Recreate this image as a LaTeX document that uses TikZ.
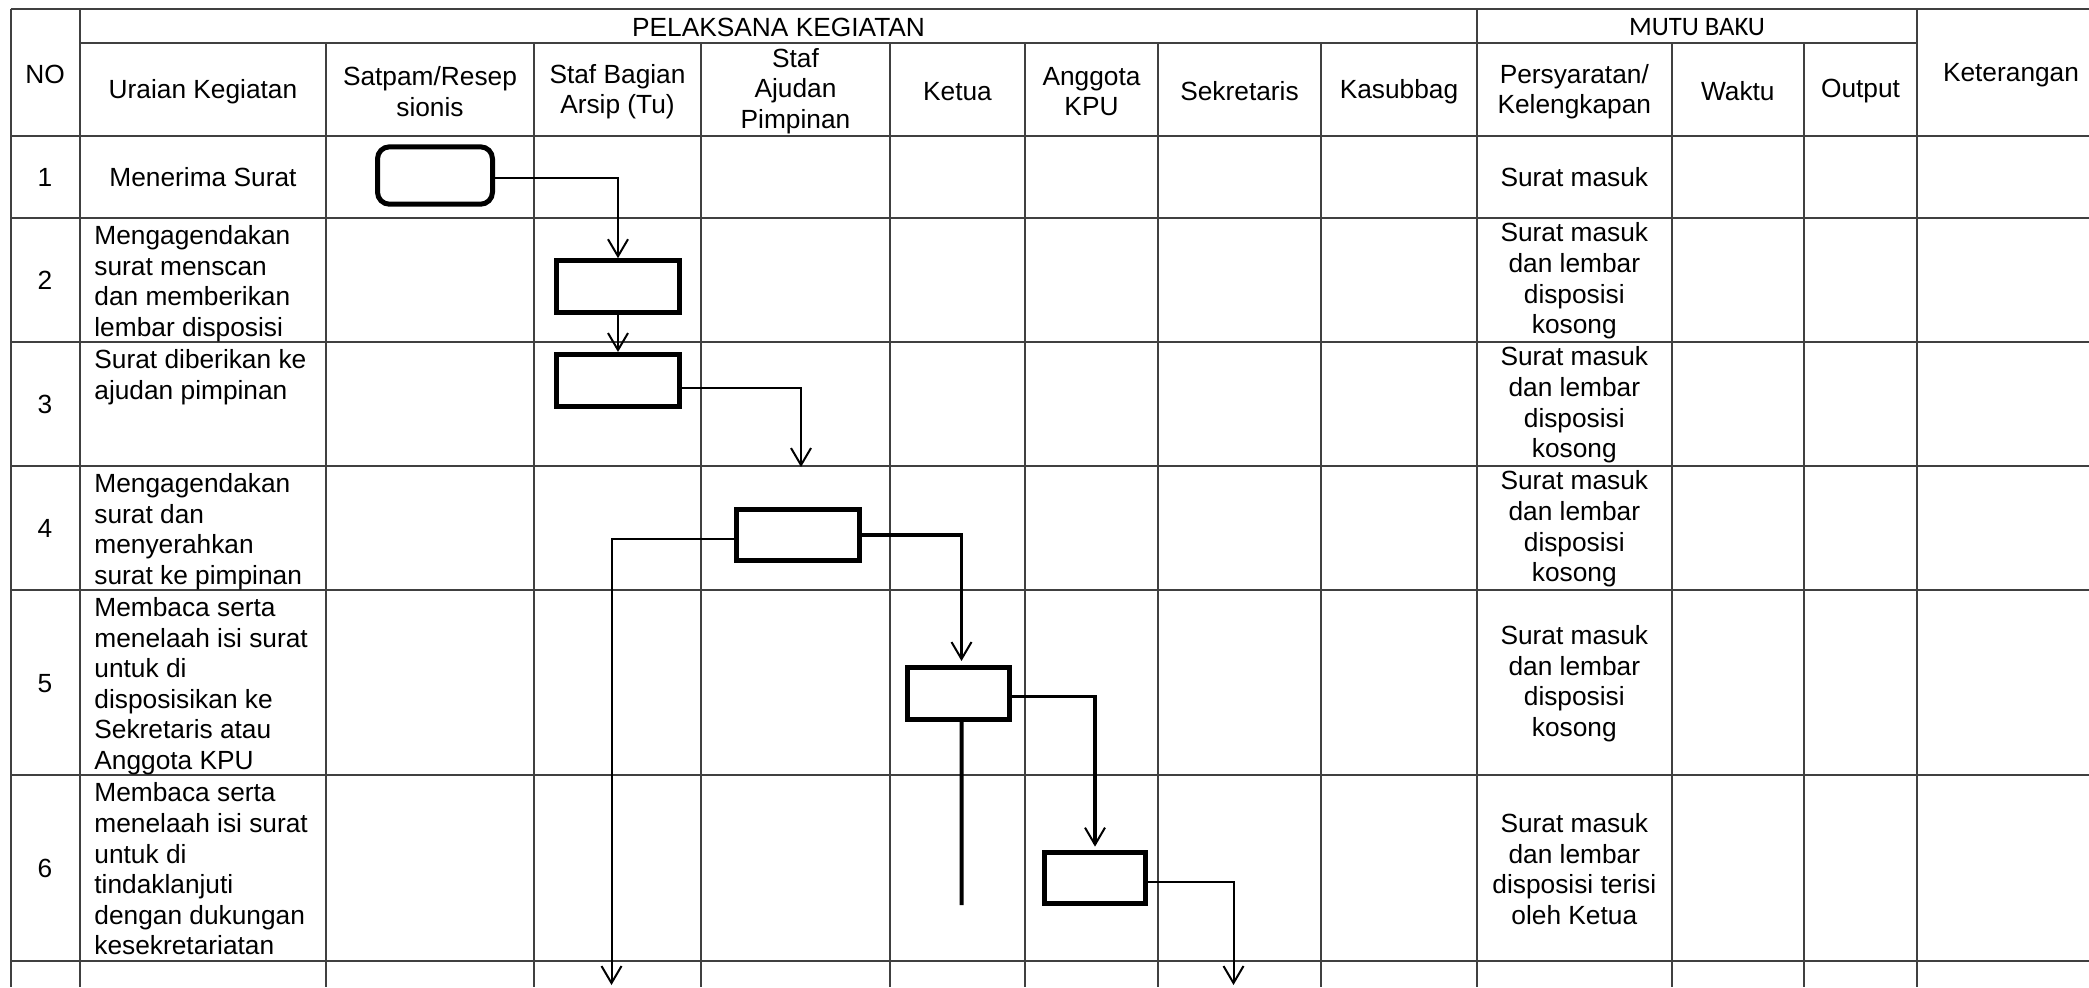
\documentclass[tikz,border=0pt]{standalone}
\usepackage{fontspec}
\setmainfont{Liberation Sans}
\newfontfamily\calibrifont{Carlito}
\usetikzlibrary{arrows.meta}
\begin{document}
\begin{tikzpicture}[x=0.5pt,y=-0.5pt,
  grid/.style={line width=1pt, draw=black!75},
  txt/.style={inner sep=0pt, font=\fontsize{13.15}{15.3}\selectfont, align=center},
  ltxt/.style={inner sep=0pt, font=\fontsize{13.15}{15.3}\selectfont, align=left, anchor=north west},
  box/.style={draw=black, line width=2.5pt, minimum width=61.5pt, minimum height=26pt, inner sep=0pt},
  conn/.style={draw=black, line width=1pt},
  thickconn/.style={draw=black, line width=1.6pt},
  arr/.style={-{Straight Barb[length=8.5pt,width=10pt,line width=1pt]}},
]
\fill[white] (0,0) rectangle (2089,987);
\useasboundingbox (0,0) rectangle (2089,987);

% ---------- grid ----------
\foreach \x in {10.5,80,1477,1917}
  \draw[grid] (\x,9.3) -- (\x,987);
\foreach \x in {326,534,701,890,1025,1158,1321,1671.5,1804}
  \draw[grid] (\x,42.5) -- (\x,987);
\draw[grid] (10.5,9.3) -- (2089,9.3);
\draw[grid] (80,42.5) -- (1917,42.5);
\foreach \y in {136,217.5,341.5,465.5,589.5,775,960.5}
  \draw[grid] (10.5,\y) -- (2089,\y);

% ---------- header texts ----------
\node[txt] (hno) at (45,74.5) {NO};
\node[txt] (hpk) at (778.5,27) {PELAKSANA KEGIATAN};
\node[txt, font=\calibrifont\fontsize{13.3}{15}\selectfont] (hmb) at (1697,27) {MUTU BAKU};
\node[txt] (hket) at (2011,75.5) {Keterangan};
\node[txt] (hura) at (203,91.5) {Uraian Kegiatan};
\node[txt] (hsat) at (430,91.5) {Satpam/Resep\\sionis};
\node[txt] (harq) at (617.5,91.5) {Staf Bagian\\Arsip (Tu)};
\node[txt] (hajd) at (795.5,91) {Staf\\Ajudan\\Pimpinan};
\node[txt] (hket2) at (957.5,91.5) {Ketua};
\node[txt] (hang) at (1091.5,91.5) {Anggota\\KPU};
\node[txt] (hsek) at (1239.5,91.5) {Sekretaris};
\node[txt] (hkas) at (1399,91.5) {Kasubbag};
\node[txt] (hper) at (1574.3,91.5) {Persyaratan/\\Kelengkapan};
\node[txt] (hwak) at (1737.8,91.5) {Waktu};
\node[txt] (hout) at (1860.5,91.5) {Output};

% ---------- row numbers ----------
\node[txt] (n1) at (45,177.5) {1};
\node[txt] (n2) at (45,280.5) {2};
\node[txt] (n3) at (45,404.5) {3};
\node[txt] (n4) at (45,528.5) {4};
\node[txt] (n5) at (45,683.3) {5};
\node[txt] (n6) at (45,868.8) {6};

% ---------- activity descriptions ----------
\node[txt] (u1) at (203,177.5) {Menerima Surat};
\node[ltxt] (u2) at (94,225) {Mengagendakan\\surat menscan\\dan memberikan\\lembar disposisi};
\node[ltxt] (u3) at (94,349) {Surat diberikan ke\\ajudan pimpinan};
\node[ltxt] (u4) at (94,473) {Mengagendakan\\surat dan\\menyerahkan\\surat ke pimpinan};
\node[ltxt] (u5) at (94,597) {Membaca serta\\menelaah isi surat\\untuk di\\disposisikan ke\\Sekretaris atau\\Anggota KPU};
\node[ltxt] (u6) at (94,782.5) {Membaca serta\\menelaah isi surat\\untuk di\\tindaklanjuti\\dengan dukungan\\kesekretariatan};

% ---------- requirements ----------
\node[txt] (p1) at (1574.3,177.5) {Surat masuk};
\node[txt] (p2) at (1574.3,281) {Surat masuk\\dan lembar\\disposisi\\kosong};
\node[txt] (p3) at (1574.3,405) {Surat masuk\\dan lembar\\disposisi\\kosong};
\node[txt] (p4) at (1574.3,529) {Surat masuk\\dan lembar\\disposisi\\kosong};
\node[txt] (p5) at (1574.3,683.5) {Surat masuk\\dan lembar\\disposisi\\kosong};
\node[txt] (p6) at (1574.3,869) {Surat masuk\\dan lembar\\disposisi terisi\\oleh Ketua};

% ---------- flow boxes ----------
\node[box, rounded corners=6pt, minimum width=57.5pt, minimum height=28.7pt] (b1) at (435,175.5) {};
\node[box] (b2) at (618,286.7) {};
\node[box] (b3) at (618,380.5) {};
\node[box, minimum height=25.5pt] (b4) at (798,535) {};
\node[box, minimum width=51pt] (b5) at (958.5,693.5) {};
\node[box, minimum width=50.5pt, minimum height=25.5pt] (b6) at (1095,877.6) {};

% ---------- free ends ----------
\coordinate (a3) at (801,467);
\coordinate (a4) at (611.5,985);
\coordinate (e5) at (961.7,905);
\coordinate (a6) at (1233.5,985);

% ---------- connectors ----------
\draw[conn, arr] ([yshift=-1.3pt]b1.east) -| (b2.north);
\draw[conn, arr] (b2.south) -- (b3.north);
\draw[conn, arr] ([yshift=-3.7pt]b3.east) -| (a3);
\draw[conn, arr] ([yshift=-2pt]b4.west) -| (a4);
\draw[thickconn, arr] (b4.east) -| ([xshift=1.5pt,yshift=2pt]b5.north);
\draw[line width=2pt] ([xshift=1.6pt]b5.south) -- (e5);
\draw[thickconn, arr] ([yshift=-1.3pt]b5.east) -| ([yshift=1.5pt]b6.north);
\draw[conn, arr] ([yshift=-2pt]b6.east) -| (a6);
\end{tikzpicture}
\end{document}
